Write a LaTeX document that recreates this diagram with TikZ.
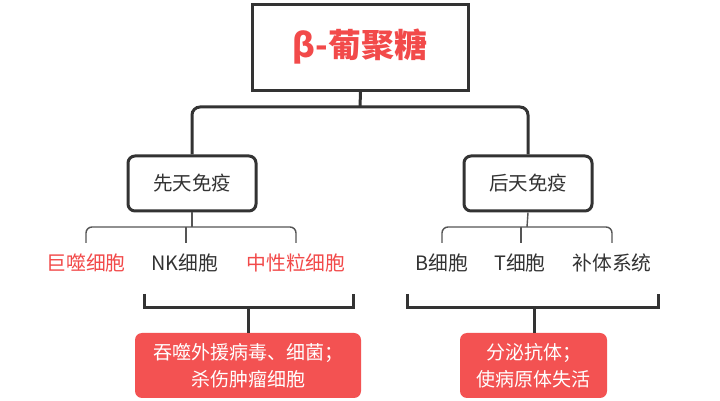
\documentclass[tikz,border=0pt]{standalone}
\usepackage{fontspec}
\setmainfont{Noto Sans CJK SC}
\newfontfamily\cjk{Noto Sans CJK SC}
\definecolor{dark}{RGB}{51,51,51}
\definecolor{graylines}{RGB}{85,85,85}
\definecolor{redtxt}{RGB}{242,74,74}
\definecolor{redbox}{RGB}{243,82,82}
\begin{document}
\begin{tikzpicture}[x=1pt,y=1pt,
  titlebox/.style={draw=dark,line width=3pt,minimum width=216pt,minimum height=86pt,inner sep=0pt,fill=white},
  catbox/.style={draw=dark,line width=3pt,rounded corners=7pt,minimum width=128pt,minimum height=55pt,inner sep=0pt,font=\cjk\fontsize{19.5}{22}\selectfont,text=dark},
  lbl/.style={font=\cjk\fontsize{19.8}{22}\selectfont,inner sep=0pt},
  redlbl/.style={lbl,text=redtxt},
  darklbl/.style={lbl,text=dark},
  resbox/.style={fill=redbox,rounded corners=7pt,minimum height=65pt,inner sep=0pt,align=center,text=white,font=\cjk\fontsize{19}{27}\selectfont},
  thick line/.style={draw=dark,line width=3pt},
  thin line/.style={draw=graylines,line width=1.4pt,rounded corners=6pt}
]
\useasboundingbox (0,0) rectangle (720,401);
\fill[white] (0,0) rectangle (720,401);
% title
\node[titlebox] (title) at (360.5,353.5) {};
\node[font=\cjk\bfseries\fontsize{33}{38}\selectfont,text=redtxt] (titletext) at (360,354) {β-葡聚糖};
% categories
\node[catbox] (innate) at (192,217.5) {先天免疫};
\node[catbox] (acquired) at (528,217.5) {后天免疫};
\coordinate (hb) at (360,294);
\draw[thick line] (title.south) -- (hb);
\draw[thick line,rounded corners=8pt] (innate.north) |- (hb) -| (acquired.north);
% labels
\node[redlbl] (mac) at (86,138) {巨噬细胞};
\node[darklbl] (nk) at (185,138) {NK细胞};
\node[redlbl] (neu) at (296,138) {中性粒细胞};
\node[darklbl] (bc) at (442,138) {B细胞};
\node[darklbl] (tc) at (520,138) {T细胞};
\node[darklbl] (comp) at (612,138) {补体系统};
% small brackets
\coordinate (ib) at (192,174);
\coordinate (ab) at (527,174);
\draw[thin line] (innate.south) -- (ib);
\draw[thin line] (86,158) |- (ib) -| (296,158);
\draw[thin line] (186,174) -- (186,158);
\draw[thin line] (acquired.south) -- (ab);
\draw[thin line] (442,158) |- (ab) -| (612,158);
\draw[thin line] (521,174) -- (521,158);
% results
\node[resbox,minimum width=226pt] (res1) at (248,35.5) {吞噬外援病毒、细菌；\\杀伤肿瘤细胞};
\node[resbox,minimum width=147pt] (res2) at (533.5,35.5) {分泌抗体；\\使病原体失活};
% bottom brackets
\coordinate (lb) at (248,93);
\coordinate (rb) at (534,93);
\draw[thick line] (144,107) -- (144,93) -- (353,93) -- (353,107);
\draw[thick line] (lb) -- (res1.north -| lb);
\draw[thick line] (407,107) -- (407,93) -- (658,93) -- (658,107);
\draw[thick line] (rb) -- (res2.north -| rb);
\end{tikzpicture}
\end{document}
